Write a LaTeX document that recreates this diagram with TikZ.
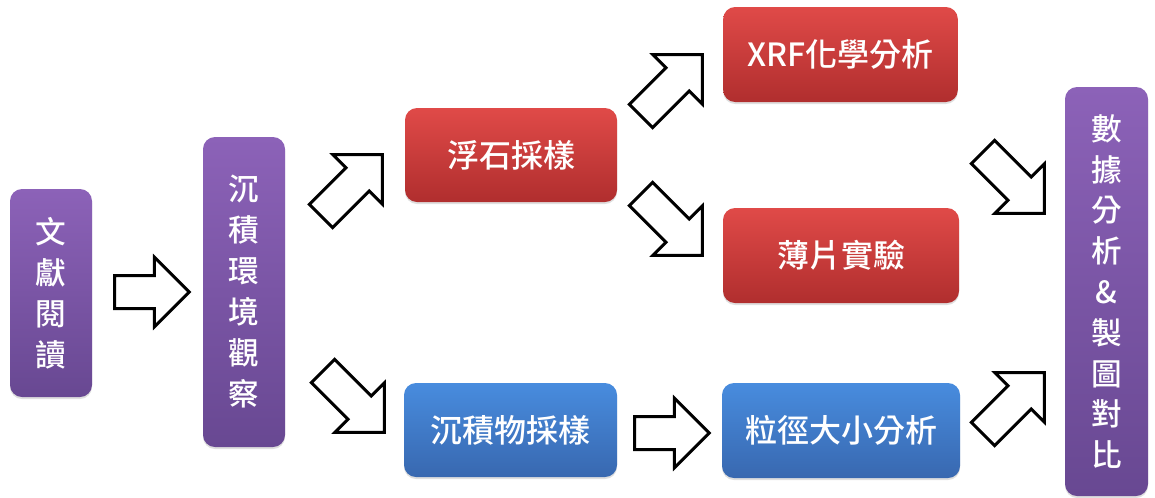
\documentclass[tikz,border=0pt]{standalone}
\usepackage{fontspec}
\setmainfont{Noto Sans CJK TC}
\newfontfamily\boxfont{Noto Sans CJK TC Medium}
\usetikzlibrary{shapes.arrows,shadows}
\definecolor{pTop}{RGB}{140,98,184}
\definecolor{pBot}{RGB}{104,72,146}
\definecolor{rTop}{RGB}{224,74,72}
\definecolor{rBot}{RGB}{176,46,46}
\definecolor{bTop}{RGB}{72,140,222}
\definecolor{bBot}{RGB}{56,104,176}
\begin{document}
\begin{tikzpicture}[x=0.75pt,y=-0.75pt,
  box/.style={rounded corners=9pt, inner sep=0pt, text=white, font=\boxfont\fontsize{24}{30}\selectfont,
    drop shadow={opacity=0.25, shadow xshift=0pt, shadow yshift=-1.5pt}},
  pbox/.style={box, top color=pTop, bottom color=pBot, minimum width=61.5pt, align=center},
  rbox/.style={box, top color=rTop, bottom color=rBot, minimum height=70.5pt},
  bbox/.style={box, top color=bTop, bottom color=bBot, minimum height=70.5pt},
  bigarrow/.style={single arrow, draw=black, fill=white, line width=2.25pt,
    inner xsep=0pt, inner ysep=11.25pt, single arrow head extend=13.75pt,
    single arrow tip angle=90, outer sep=0pt, miter limit=4, anchor=tail},
  hArrow/.style={bigarrow, minimum height=56pt},
  dArrow/.style={bigarrow, minimum height=65pt}]
\useasboundingbox (0,0) rectangle (1155,497);
% boxes
\node[pbox, minimum height=156pt, font=\boxfont\fontsize{23}{30.75}\selectfont] (A) at (51,293) {文\\獻\\閱\\讀};
\node[pbox, minimum height=232.5pt, font=\boxfont\fontsize{23}{30.75}\selectfont] (B) at (244,292) {沉\\積\\環\\境\\觀\\察};
\node[rbox, minimum width=159pt] (C) at (511,155) {浮石採樣};
\node[bbox, minimum width=159.75pt] (D) at (510.5,430) {沉積物採樣};
\node[rbox, minimum width=176pt, minimum height=71.25pt] (E) at (840.5,54.5) {XRF化學分析};
\node[rbox, minimum width=177pt, minimum height=71.25pt] (F) at (841,255.5) {薄片實驗};
\node[bbox, minimum width=178.5pt, minimum height=71.25pt] (G) at (841,430.5) {粒徑大小分析};
\node[pbox, minimum width=62.25pt, minimum height=306.75pt, font=\boxfont\fontsize{23}{30.6}\selectfont] (H) at (1106.5,291.5) {數\\據\\分\\析\\\&\\製\\圖\\對\\比};
% arrows
\node[hArrow] (a1) at (114.5,292) {};
\node[dArrow, rotate=45] (a2) at (321,216) {};
\node[dArrow, rotate=-45] (a3) at (323,371) {};
\node[dArrow, rotate=45] (a4) at (641,116) {};
\node[dArrow, rotate=-45] (a5) at (641,194) {};
\node[hArrow] (a6) at (634.5,433) {};
\node[dArrow, rotate=-45] (a7) at (983,152) {};
\node[dArrow, rotate=45] (a8) at (983,434) {};
\end{tikzpicture}
\end{document}
